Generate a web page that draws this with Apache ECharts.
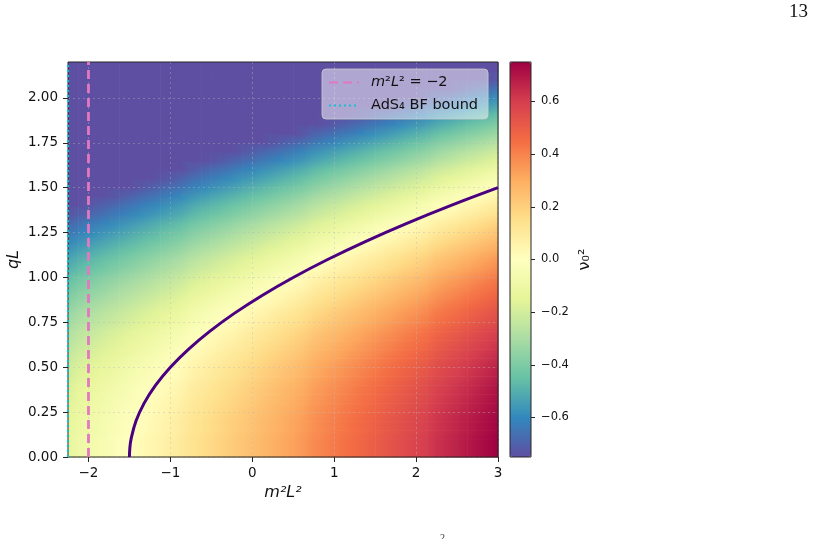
<!DOCTYPE html>
<html>
<head>
<meta charset="utf-8">
<title>nu0^2 over (m^2 L^2, qL)</title>
<script src="https://cdn.jsdelivr.net/npm/echarts@6/dist/echarts.min.js"></script>
<style>
  html, body { margin: 0; padding: 0; background: #fff; }
  #chart { width: 815px; height: 539px; }
</style>
</head>
<body>
<div id="chart"></div>
<script>
// sample columns along m^2 L^2 (edge to edge, step 0.125)
const mGrid = [-2.25, -2.125, -2.0, -1.875, -1.75, -1.625, -1.5, -1.375, -1.25, -1.125,
  -1.0, -0.875, -0.75, -0.625, -0.5, -0.375, -0.25, -0.125, 0, 0.125,
  0.25, 0.375, 0.5, 0.625, 0.75, 0.875, 1.0, 1.125, 1.25, 1.375,
  1.5, 1.625, 1.75, 1.875, 2.0, 2.125, 2.25, 2.375, 2.5, 2.625,
  2.75, 2.875, 3.0];
// nu0^2 read along the bottom edge (qL = 0) for each column
const nuAtQ0 = [-0.13, -0.10, -0.08, -0.06, -0.04, -0.02, 0.00, 0.02, 0.04, 0.06,
  0.08, 0.10, 0.13, 0.15, 0.17, 0.19, 0.21, 0.23, 0.25, 0.27,
  0.29, 0.31, 0.33, 0.35, 0.38, 0.40, 0.42, 0.44, 0.46, 0.48,
  0.50, 0.52, 0.54, 0.56, 0.58, 0.60, 0.63, 0.65, 0.67, 0.69,
  0.71, 0.73, 0.75];
// sample rows along qL (edge to edge, step 0.05)
const qGrid = [0, 0.05, 0.10, 0.15, 0.20, 0.25, 0.30, 0.35, 0.40, 0.45,
  0.50, 0.55, 0.60, 0.65, 0.70, 0.75, 0.80, 0.85, 0.90, 0.95,
  1.00, 1.05, 1.10, 1.15, 1.20, 1.25, 1.30, 1.35, 1.40, 1.45,
  1.50, 1.55, 1.60, 1.65, 1.70, 1.75, 1.80, 1.85, 1.90, 1.95,
  2.00, 2.05, 2.10, 2.15, 2.20];
// how far nu0^2 drops from the bottom row at each qL row
const qDrop = [0.00, 0.00, 0.00, -0.01, -0.01, -0.02, -0.03, -0.04, -0.05, -0.07,
  -0.08, -0.10, -0.12, -0.14, -0.16, -0.19, -0.21, -0.24, -0.27, -0.30,
  -0.33, -0.37, -0.40, -0.44, -0.48, -0.52, -0.56, -0.61, -0.65, -0.70,
  -0.75, -0.80, -0.85, -0.91, -0.96, -1.02, -1.08, -1.14, -1.20, -1.27,
  -1.33, -1.40, -1.47, -1.54, -1.61];

// nu0^2 = 0 curve
const contourQ = [0, 0.05, 0.1, 0.2, 0.3, 0.4, 0.5, 0.6, 0.7, 0.8, 0.9, 1.0, 1.1, 1.2, 1.3, 1.4, 1.5];
const contourM = [-1.5, -1.495, -1.48, -1.42, -1.32, -1.18, -1.0, -0.78, -0.52, -0.22, 0.12, 0.5, 0.92, 1.38, 1.88, 2.42, 3.0];

const massLine = -2;     // m^2 L^2 = -2
const bfBound = -2.25;   // AdS4 BF bound
const xTicks = [-2, -1, 0, 1, 2, 3];
const yTicks = [0, 0.25, 0.5, 0.75, 1.0, 1.25, 1.5, 1.75, 2.0];
const cbarTicks = [-0.6, -0.4, -0.2, 0, 0.2, 0.4, 0.6];
const cbarRange = [-0.75, 0.75];

const spectralR = ['#5e4fa2', '#3288bd', '#66c2a5', '#abdda4', '#e6f598', '#ffffbf',
  '#fee08b', '#fdae61', '#f46d43', '#d53e4f', '#9e0142'];

const FONT = '"DejaVu Sans", sans-serif';
const INK = '#262626';
const nm = mGrid.length;
const nq = qGrid.length;

// sample table, clipped to the colour range like the colorbar
const field = [];
mGrid.forEach((m, i) => {
  qGrid.forEach((q, j) => {
    const v = Math.max(cbarRange[0], Math.min(cbarRange[1], nuAtQ0[i] + qDrop[j]));
    field.push([m, q, v]);
  });
});

const minus = (v, d) => (v < 0 ? '\u2212' : '') + Math.abs(v).toFixed(d);

// one patch between four neighbouring samples, shaded like imshow's smoothing
function renderPatch(params, api) {
  const k = params.dataIndex;
  const i = Math.floor(k / nq);
  const j = k % nq;
  if (i === nm - 1 || j === nq - 1) return null;
  const p00 = api.coord([api.value(0, k), api.value(1, k)]);
  const p11 = api.coord([api.value(0, k + nq + 1), api.value(1, k + nq + 1)]);
  const x0 = p00[0], x1 = p11[0], yb = p00[1], yt = p11[1];
  const w = x1 - x0, h = yb - yt;
  const corners = [
    { k: k, p: [x0, yb] }, { k: k + nq, p: [x1, yb] },
    { k: k + 1, p: [x0, yt] }, { k: k + nq + 1, p: [x1, yt] }
  ];
  corners.forEach(c => { c.v = api.value(2, c.k); });
  let lo = corners[0], hi = corners[0];
  corners.forEach(c => { if (c.v < lo.v) lo = c; if (c.v > hi.v) hi = c; });
  let fill = api.visual('color', k);
  const gx = (corners[1].v - corners[0].v) / w;
  const gy = -(corners[2].v - corners[0].v) / h;
  const gg = gx * gx + gy * gy;
  if (hi.v - lo.v > 1e-6 && gg > 1e-12) {
    const t = (hi.v - lo.v) / gg;
    fill = new echarts.graphic.LinearGradient(
      lo.p[0], lo.p[1], lo.p[0] + gx * t, lo.p[1] + gy * t,
      [{ offset: 0, color: api.visual('color', lo.k) }, { offset: 1, color: api.visual('color', hi.k) }],
      true);
  }
  return {
    type: 'rect',
    shape: { x: x0, y: yt, width: w + 0.6, height: h + 0.6 },
    style: { fill: fill }
  };
}

const chart = echarts.init(document.getElementById('chart'), null, { renderer: 'canvas' });

const gridLine = { show: true, lineStyle: { color: 'rgba(185,185,185,0.38)', type: [2, 3], width: 1 } };

chart.setOption({
  animation: false,
  textStyle: { fontFamily: FONT },
  grid: [
    { left: 68, top: 62, width: 430, height: 395, show: true, z: 4, outerBoundsMode: 'none',
      backgroundColor: 'transparent', borderColor: INK, borderWidth: 1 },
    { left: 510, top: 62, width: 21, height: 395, show: true, z: 6, outerBoundsMode: 'none',
      backgroundColor: 'transparent', borderColor: INK, borderWidth: 1 }
  ],
  xAxis: [
    {
      type: 'value', gridIndex: 0, min: -2.25, max: 3, z: 3,
      name: 'm²L²', nameLocation: 'middle', nameGap: 26,
      nameTextStyle: { fontSize: 16, fontStyle: 'italic', color: '#111', fontFamily: FONT },
      axisLine: { show: false, onZero: false },
      axisTick: { show: true, length: 5, customValues: xTicks, lineStyle: { color: INK } },
      axisLabel: { customValues: xTicks, fontSize: 13.5, color: '#111', margin: 9,
        formatter: v => minus(v, 0) },
      splitLine: gridLine
    },
    { type: 'value', gridIndex: 1, min: 0, max: 1, show: false }
  ],
  yAxis: [
    {
      type: 'value', gridIndex: 0, min: 0, max: 2.2, z: 3,
      name: 'qL', nameLocation: 'middle', nameGap: 46, nameMoveOverlap: false,
      nameTextStyle: { fontSize: 16, fontStyle: 'italic', color: '#111', fontFamily: FONT },
      axisLine: { show: false, onZero: false },
      axisTick: { show: true, length: 5, customValues: yTicks, lineStyle: { color: INK } },
      axisLabel: { customValues: yTicks, fontSize: 13.5, color: '#111', margin: 10,
        formatter: v => v.toFixed(2) },
      splitLine: gridLine
    },
    {
      type: 'value', gridIndex: 1, position: 'right', min: cbarRange[0], max: cbarRange[1],
      name: 'ν₀²', nameLocation: 'middle', nameGap: 46, nameRotate: 90,
      nameTextStyle: { fontSize: 16, color: '#111', fontFamily: FONT },
      axisLine: { show: false, onZero: false },
      axisTick: { show: true, length: 4, customValues: cbarTicks, lineStyle: { color: INK } },
      axisLabel: { customValues: cbarTicks, fontSize: 11.5, color: '#111', margin: 10,
        formatter: v => minus(v, 1) },
      splitLine: { show: false }
    }
  ],
  visualMap: {
    type: 'continuous', seriesIndex: 0, dimension: 2,
    min: cbarRange[0], max: cbarRange[1],
    calculable: false, hoverLink: false,
    left: 510, top: 62, itemWidth: 21, itemHeight: 395, padding: 0,
    inRange: { color: spectralR }, z: 5
  },
  legend: {
    data: ['mass', 'bf'],
    orient: 'vertical', left: 322, top: 69,
    padding: [6, 10, 6, 6], itemWidth: 30, itemHeight: 14, itemGap: 8,
    backgroundColor: 'rgba(255,255,255,0.5)', borderColor: 'rgba(204,204,204,0.8)',
    borderWidth: 1, borderRadius: 4, z: 10,
    itemStyle: { color: 'transparent', borderWidth: 0, opacity: 0 },
    textStyle: { fontSize: 14.5, color: '#111', fontFamily: FONT, padding: [0, 0, 0, 7],
      rich: { i: { fontStyle: 'italic', fontSize: 14.5, fontFamily: FONT, color: '#111' } } },
    formatter: name => name === 'mass' ? '{i|m}²{i|L}² = \u22122' : 'AdS₄ BF bound'
  },
  series: [
    {
      type: 'custom', xAxisIndex: 0, yAxisIndex: 0, silent: true, z: 1,
      data: field,
      renderItem: renderPatch
    },
    {
      type: 'line', name: 'contour', xAxisIndex: 0, yAxisIndex: 0, z: 6,
      data: contourM.map((m, i) => [m, contourQ[i]]),
      smooth: 0.4, symbol: 'none', silent: true,
      lineStyle: { color: '#4b0082', width: 3 }
    },
    {
      type: 'line', name: 'mass', xAxisIndex: 0, yAxisIndex: 0, z: 6,
      data: [[massLine, 0], [massLine, 2.2]], symbol: 'none', silent: true,
      itemStyle: { color: '#e377c2' },
      lineStyle: { color: '#e377c2', width: 2.8, type: [9, 5] }
    },
    {
      type: 'line', name: 'bf', xAxisIndex: 0, yAxisIndex: 0, z: 7, clip: false,
      data: [[bfBound, 0], [bfBound, 2.2]], symbol: 'none', silent: true,
      itemStyle: { color: '#17becf' },
      lineStyle: { color: '#17becf', width: 2.2, type: [2, 3] }
    }
  ],
  graphic: [
    { type: 'text', left: 789, top: 3, style: { text: '13', font: '19px "Liberation Serif", serif', fill: '#111' } },
    { type: 'text', left: 440, top: 533, style: { text: '2', font: '10px "Liberation Serif", serif', fill: '#333' } }
  ]
});
</script>
</body>
</html>
